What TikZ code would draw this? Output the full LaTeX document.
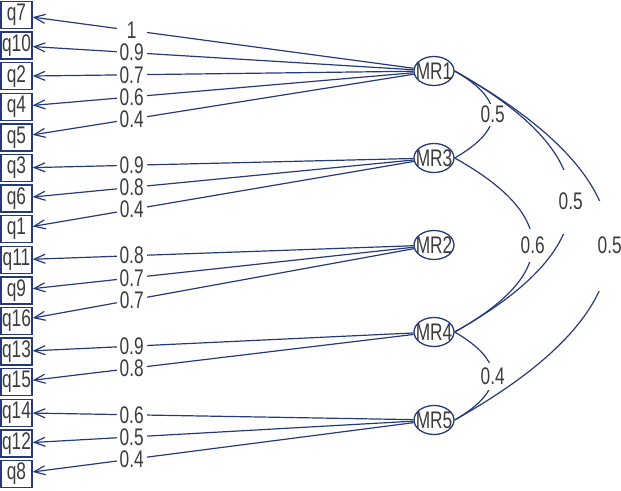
\documentclass[tikz,border=0pt]{standalone}
\usepackage{fontspec}
\setmainfont{Liberation Sans}[FakeStretch=0.72]
\usetikzlibrary{arrows.meta,shapes.geometric}
\definecolor{navy}{RGB}{38,58,122}
\definecolor{txtgray}{RGB}{60,60,60}
\begin{document}
\begin{tikzpicture}[x=1pt,y=-1pt,
  font=\fontsize{24}{28}\selectfont, text=txtgray,
  item/.style={draw=navy, line width=1.3pt, minimum width=31pt, minimum height=27pt, inner sep=0pt},
  factor/.style={ellipse, draw=navy, line width=1.3pt, minimum width=40pt, minimum height=29pt, inner sep=0pt},
  load/.style={draw=navy, line width=1.2pt, -{Straight Barb[length=11pt,width=9pt]}},
  lbl/.style={fill=white, inner xsep=1pt, inner ysep=1pt, minimum width=30pt, pos=0.74},
  corr/.style={draw=navy, line width=1.2pt},
  clbl/.style={fill=white, inner sep=1pt, minimum width=28pt}]
\useasboundingbox (0,0) rectangle (621,490);
\foreach \n [count=\i from 0] in {q7,q10,q2,q4,q5,q3,q6,q1,q11,q9,q16,q13,q15,q14,q12,q8}
  \node[item] (\n) at (16.5,{15+30.6*\i}) {\n};
\node[factor, label=center:MR1] (MR1) at (434,71) {};
\node[factor, label=center:MR3] (MR3) at (434,158) {};
\node[factor, label=center:MR2] (MR2) at (434,245) {};
\node[factor, label=center:MR4] (MR4) at (434,332) {};
\node[factor, label=center:MR5] (MR5) at (434,420) {};
% loadings
\draw[load] (MR1) -- node[lbl]{1} (q7);
\draw[load] (MR1) -- node[lbl]{0.9} (q10);
\draw[load] (MR1) -- node[lbl]{0.7} (q2);
\draw[load] (MR1) -- node[lbl]{0.6} (q4);
\draw[load] (MR1) -- node[lbl]{0.4} (q5);
\draw[load] (MR3) -- node[lbl]{0.9} (q3);
\draw[load] (MR3) -- node[lbl]{0.8} (q6);
\draw[load] (MR3) -- node[lbl]{0.4} (q1);
\draw[load] (MR2) -- node[lbl]{0.8} (q11);
\draw[load] (MR2) -- node[lbl]{0.7} (q9);
\draw[load] (MR2) -- node[lbl]{0.7} (q16);
\draw[load] (MR4) -- node[lbl]{0.9} (q13);
\draw[load] (MR4) -- node[lbl]{0.8} (q15);
\draw[load] (MR5) -- node[lbl]{0.6} (q14);
\draw[load] (MR5) -- node[lbl]{0.5} (q12);
\draw[load] (MR5) -- node[lbl]{0.4} (q8);
% factor correlations
\draw[corr] (MR1.east) .. controls +(50.7,29) and +(50.7,-29) .. node[clbl, minimum height=22pt]{0.5} (MR3.east);
\draw[corr] (MR4.east) .. controls +(50.7,29.3) and +(50.7,-29.3) .. node[clbl, minimum height=27pt]{0.4} (MR5.east);
\draw[corr] (MR3.east) .. controls +(104,58) and +(104,-58) .. node[clbl, minimum height=33pt]{0.6} (MR4.east);
\draw[corr] (MR1.east) .. controls +(154.7,87) and +(154.7,-87) .. node[clbl, minimum height=64pt]{0.5} (MR4.east);
\draw[corr] (MR1.east) .. controls +(206.7,116.3) and +(206.7,-116.3) .. node[clbl, minimum height=90pt]{0.5} (MR5.east);
\end{tikzpicture}
\end{document}
